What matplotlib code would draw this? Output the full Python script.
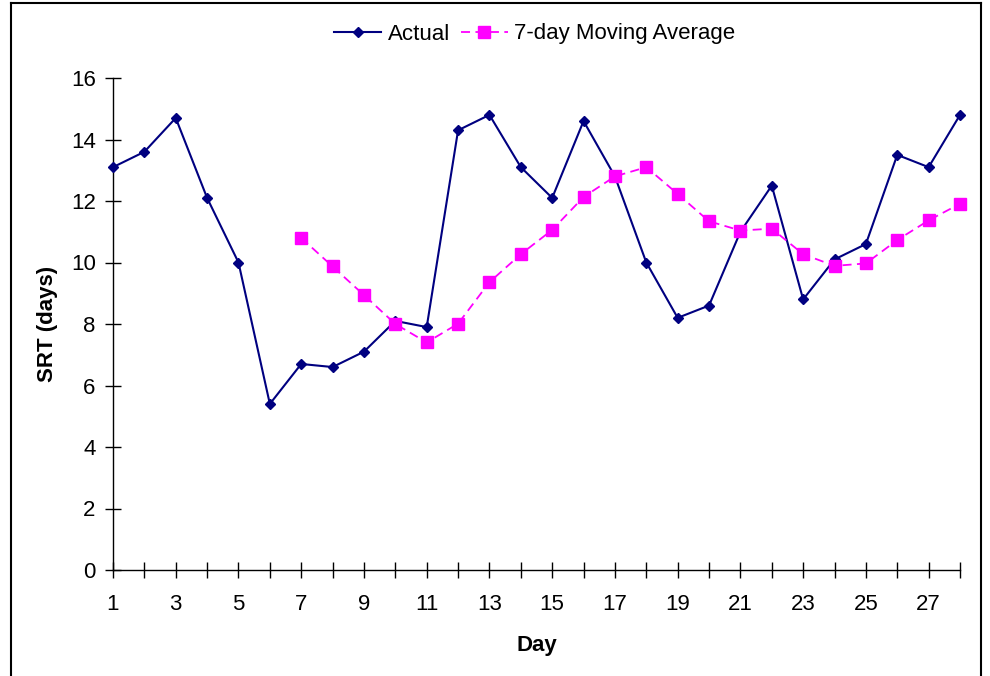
import matplotlib.pyplot as plt
from matplotlib.lines import Line2D

plt.rcParams['font.family'] = ['Liberation Sans', 'DejaVu Sans']

days = list(range(1, 29))
actual = [13.1, 13.6, 14.7, 12.1, 10.0, 5.4, 6.7, 6.6, 7.1, 8.1, 7.9, 14.3, 14.8, 13.1,
          12.1, 14.6, 12.8, 10.0, 8.2, 8.6, 11.0, 12.5, 8.8, 10.1, 10.6, 13.5, 13.1, 14.8]
ma_days = list(range(7, 29))
moving_avg = [10.80, 9.87, 8.94, 8.00, 7.40, 8.01, 9.36, 10.27, 11.06, 12.13, 12.80,
              13.10, 12.23, 11.34, 11.04, 11.10, 10.27, 9.89, 9.97, 10.73, 11.37, 11.91]
y_ticks = [0, 2, 4, 6, 8, 10, 12, 14, 16]

W, H = 990, 676
fig = plt.figure(figsize=(W / 100, H / 100), dpi=100)
ax = fig.add_axes([113 / W, (H - 570) / H, (960 - 113) / W, (570 - 78) / H])

ax.plot(days, actual, color='#000080', lw=1.5, marker='D', ms=5.5,
        label='Actual', clip_on=False, zorder=3)
ax.plot(ma_days, moving_avg, color='#FF00FF', lw=1.3, ls=(0, (5, 3)), marker='s', ms=9,
        label='7-day Moving Average', clip_on=False, zorder=4)

ax.set_xlim(1, 28)
ax.set_ylim(0, 16)
ax.set_xticks(days)
ax.set_xticklabels([str(d) if d % 2 == 1 else '' for d in days])
ax.set_yticks(y_ticks)
ax.tick_params(direction='inout', length=11, width=1, labelsize=16, colors='black')
ax.tick_params(axis='x', pad=12)
ax.tick_params(axis='y', pad=7)

for s in ['top', 'right']:
    ax.spines[s].set_visible(False)
for s in ['left', 'bottom']:
    ax.spines[s].set_linewidth(1)

ax.set_xlabel('Day', fontsize=16, fontweight='bold', labelpad=14)
ax.set_ylabel('SRT (days)', fontsize=16, fontweight='bold', labelpad=9)

ax.legend(loc='center', bbox_to_anchor=(535 / W, 1 - 34 / H), bbox_transform=fig.transFigure,
          ncol=2, frameon=False, fontsize=16, handlelength=2.1, columnspacing=0.5,
          handletextpad=0.3)

# outer border of the chart area
fig.add_artist(Line2D([11 / W, 11 / W], [0, 1 - 3 / H], color='black', lw=1.5))
fig.add_artist(Line2D([11 / W, 981 / W], [1 - 3 / H, 1 - 3 / H], color='black', lw=1.5))
fig.add_artist(Line2D([981 / W, 981 / W], [0, 1 - 3 / H], color='black', lw=1.5))

fig.savefig('out.png', dpi=100)
